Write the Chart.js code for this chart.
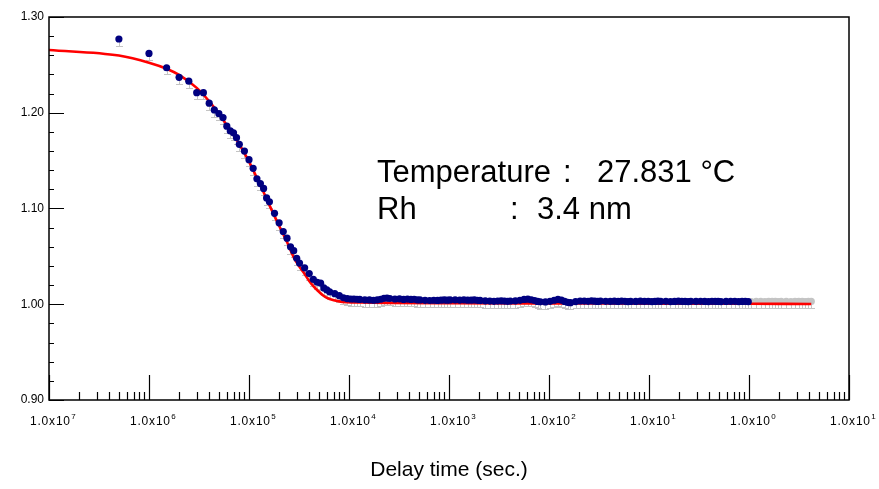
<!DOCTYPE html>
<html>
<head>
<meta charset="utf-8">
<title>DLS correlation</title>
<script src="https://cdn.jsdelivr.net/npm/chart.js@4.4.1/dist/chart.umd.min.js"></script>
<style>
    html, body { margin: 0; padding: 0; background: #ffffff; }
</style>
</head>
<body>
<canvas id="dlsChart" width="879" height="489"></canvas>
<script>
/**
 * DLS 相関関数 + フィット曲線
 * - 遅延時間は µs で持って、描画時に秒へ変換
 */

// 遅延時間 (µs)
const delayTimes = [
    0.5, 1, 1.5, 2, 2.5, 3, 3.5, 4, 4.5, 5, 5.5, 6, 6.5, 7, 7.5, 8,
    9, 10, 11, 12, 13, 14, 15, 16,
    18, 20, 22, 24, 26, 28, 30, 32,
    36, 40, 44, 48, 52, 56, 60, 64,
    72, 80, 88, 96, 104, 112, 120, 128,
    144, 160, 176, 192, 208, 224, 240, 256,
    288, 320, 352, 384, 416, 448, 480, 512,
    576, 640, 704, 768, 832, 896, 960, 1024,
    1152, 1280, 1408, 1536, 1664, 1792, 1920, 2048,
    2304, 2560, 2816, 3072, 3328, 3584, 3840, 4096,
    4608, 5120, 5632, 6144, 6656, 7168, 7680, 8192,
    9216, 10240, 11264, 12288, 13312, 14336, 15360, 16384,
    18432, 20480, 22528, 24576, 26624, 28672, 30720, 32768,
    36864, 40960, 45056, 49152, 53248, 57344, 61440, 65536,
    73728, 81920, 90112, 98304, 106496, 114688, 122880, 131072,
    147456, 163840, 180224, 196608, 212992, 229376, 245760, 262144,
    294912, 327680, 360448, 393216, 425984, 458752, 491520, 524288,
    589824, 655360, 720896, 786432, 851968, 917504, 983040, 1048576,
    1179648, 1310720, 1441792, 1572864, 1703936, 1835008, 1966080, 2097152,
    2359296, 2621440, 2883584, 3145728, 3407872, 3670016, 3932160, 4194304
];

// 測定値 g2
const g2Values = [
    1.277, 1.262, 1.247, 1.237, 1.233, 1.221, 1.221, 1.210, 1.203, 1.199, 1.195, 1.186, 1.181, 1.179, 1.174, 1.167,
    1.160, 1.151, 1.142, 1.131, 1.126, 1.121, 1.111, 1.107,
    1.095, 1.085, 1.076, 1.069, 1.060, 1.056, 1.048, 1.043,
    1.038, 1.032, 1.026, 1.023, 1.022, 1.017, 1.015, 1.013,
    1.011, 1.009, 1.0068, 1.0058, 1.0055, 1.0055, 1.0052, 1.0050,
    1.0046, 1.0045, 1.0042, 1.0046, 1.0052, 1.0062, 1.0065, 1.0060,
    1.0055, 1.0056, 1.0050, 1.0054, 1.0050, 1.0052, 1.0046, 1.0045,
    1.0041, 1.0039, 1.0042, 1.0040, 1.0044, 1.0045, 1.0043, 1.0045,
    1.0046, 1.0044, 1.0046, 1.0043, 1.0044, 1.0045, 1.0041, 1.0040,
    1.0036, 1.0033, 1.0031, 1.0033, 1.0036, 1.0033, 1.0031, 1.0034,
    1.0036, 1.0041, 1.0050, 1.0053, 1.0047, 1.0039, 1.0030, 1.0025,
    1.0024, 1.0031, 1.0042, 1.0050, 1.0044, 1.0030, 1.0019, 1.0016,
    1.0028, 1.0034, 1.0033, 1.0031, 1.0035, 1.0032, 1.0030, 1.0033,
    1.0031, 1.0029, 1.0032, 1.0030, 1.0033, 1.0031, 1.0028, 1.0030,
    1.0030, 1.0032, 1.0029, 1.0031, 1.0028, 1.0030, 1.0032, 1.0029,
    1.0031, 1.0028, 1.0030, 1.0032, 1.0029, 1.0030, 1.0028, 1.0031,
    1.0029, 1.0031, 1.0030, 1.0028, 1.0031, 1.0029, 1.0030, 1.0028,
    1.0030, 1.0029, 1.0031, 1.0028, 1.0030, 1.0029, 1.0027, 1.0028,
    1.0029, 1.0030, 1.0028, 1.0031, 1.0029, 1.0030, 1.0028, 1.0029,
    1.0030, 1.0028, 1.0031, 1.0029, 1.0030, 1.0028, 1.0030, 1.0029
];

// フィット曲線 (µs / g2)
const fitTimes = [
    0.1, 0.5, 1, 1.5, 2, 3, 4, 5, 6, 7, 8, 10, 12, 14, 16, 20, 24, 28, 32,
    36, 40, 44, 48, 56, 64, 80, 96, 128, 256, 1024, 10000, 100000, 1000000, 4194304
];
const fitValues = [
    1.2655, 1.2597, 1.2523, 1.2460, 1.2395, 1.2260, 1.2120, 1.1990, 1.1870, 1.1770, 1.1670,
    1.1490, 1.1320, 1.1170, 1.1035, 1.0820, 1.0650, 1.0490, 1.0390,
    1.0316, 1.0243, 1.0190, 1.0149, 1.0086, 1.0055, 1.0030, 1.0022, 1.0018, 1.0014,
    1.0011, 1.0009, 1.0007, 1.0005, 1.0003
];

// フィット範囲の上限 (µs) - これより後は灰色
const fitRangeEnd = 1000000;

// 誤差 (下側のみ)
const errLow = 0.007;

// 軸ラベル
const xTickPowers = [-7, -6, -5, -4, -3, -2, -1, 0, 1];
const xTickExpText = ['7', '6', '5', '4', '3', '2', '1', '0', '1'];
const yTickValues = [0.90, 1.00, 1.10, 1.20, 1.30];

const FONT = '"Liberation Sans", Arial, Helvetica, sans-serif';


// 測定点を秒単位の {x, y} に
function buildPoints(inRange) {

    const points = [];

    delayTimes.forEach(function(t, i) {
        if ((t <= fitRangeEnd) === inRange) {
            points.push({ x: t * 1e-6, y: g2Values[i] });
        }
    });

    return points;
}


function buildFitLine() {

    return fitTimes.map(function(t, i) {
        return { x: t * 1e-6, y: fitValues[i] };
    });
}


// 誤差棒・枠・目盛・文字
const dlsDecorPlugin = {
    id: 'dlsDecor',

    beforeDatasetsDraw: function(chart) {

        const ctx = chart.ctx;
        const xs = chart.scales.x;
        const ys = chart.scales.y;

        ctx.save();
        ctx.strokeStyle = '#c4c4c4';
        ctx.lineWidth = 1;

        delayTimes.forEach(function(t, i) {
            const px = Math.round(xs.getPixelForValue(t * 1e-6)) + 0.5;
            const py = ys.getPixelForValue(g2Values[i]);
            const pe = Math.round(ys.getPixelForValue(g2Values[i] - errLow)) + 0.5;

            ctx.beginPath();
            ctx.moveTo(px, py);
            ctx.lineTo(px, pe);
            ctx.moveTo(px - 3.5, pe);
            ctx.lineTo(px + 3.5, pe);
            ctx.stroke();
        });

        ctx.restore();
    },

    afterDraw: function(chart) {

        const ctx = chart.ctx;
        const area = chart.chartArea;
        const xs = chart.scales.x;
        const ys = chart.scales.y;

        ctx.save();

        // 枠
        ctx.strokeStyle = '#000000';
        ctx.lineWidth = 1.5;
        ctx.strokeRect(area.left, area.top, area.right - area.left, area.bottom - area.top);

        // x 目盛 (10 進 + 2..9)
        ctx.lineWidth = 1.2;
        ctx.beginPath();
        xTickPowers.forEach(function(p) {
            const px = Math.round(xs.getPixelForValue(Math.pow(10, p))) + 0.5;
            ctx.moveTo(px, area.bottom);
            ctx.lineTo(px, area.bottom - 25);

            if (p < 1) {
                for (let m = 2; m <= 9; m++) {
                    const mx = Math.round(xs.getPixelForValue(m * Math.pow(10, p))) + 0.5;
                    ctx.moveTo(mx, area.bottom);
                    ctx.lineTo(mx, area.bottom - 8);
                }
            }
        });
        ctx.stroke();

        // y 目盛 (0.1 / 0.02)
        ctx.beginPath();
        for (let k = 0; k <= 20; k++) {
            const v = 0.9 + k * 0.02;
            const py = Math.round(ys.getPixelForValue(v)) + 0.5;
            ctx.moveTo(area.left, py);
            ctx.lineTo(area.left + (k % 5 === 0 ? 15 : 5), py);
        }
        ctx.stroke();

        // x 目盛ラベル 1.0x10^n
        ctx.fillStyle = '#000000';
        ctx.textBaseline = 'alphabetic';
        ctx.textAlign = 'left';
        xTickPowers.forEach(function(p, i) {
            const px = xs.getPixelForValue(Math.pow(10, p));
            const base = '1.0x10';

            ctx.font = '12px ' + FONT;
            ctx.letterSpacing = '0.8px';
            const w = ctx.measureText(base).width;
            const x0 = px - 19;
            ctx.fillText(base, x0, 425);

            ctx.letterSpacing = '0px';
            ctx.font = '8px ' + FONT;
            ctx.fillText(xTickExpText[i], x0 + w + 0.5, 419);
        });

        // 注記
        ctx.font = '31px ' + FONT;
        ctx.fillText('Temperature', 377, 182);
        ctx.fillText(':', 563, 182);
        ctx.fillText('27.831 \u00B0C', 597, 182);
        ctx.fillText('Rh', 377, 219);
        ctx.fillText(':', 510, 219);
        ctx.fillText('3.4 nm', 537, 219);

        ctx.restore();
    }
};


function initDlsChart() {

    const ctx = document.getElementById('dlsChart');

    if (!ctx) {
        return;
    }

    new Chart(ctx.getContext('2d'), {
        type: 'scatter',
        data: {
            datasets: [
                {
                    label: 'g2 (fit range)',
                    data: buildPoints(true),
                    backgroundColor: '#000080',
                    borderColor: '#000080',
                    pointRadius: 3.6,
                    pointBorderWidth: 0,
                    order: 0
                },
                {
                    label: 'fit',
                    data: buildFitLine(),
                    showLine: true,
                    borderColor: '#ff0000',
                    borderWidth: 2.6,
                    pointRadius: 0,
                    cubicInterpolationMode: 'monotone',
                    order: 1
                },
                {
                    label: 'g2 (excluded)',
                    data: buildPoints(false),
                    backgroundColor: '#c4c4c4',
                    borderColor: '#c4c4c4',
                    pointRadius: 3.6,
                    pointBorderWidth: 0,
                    order: 2
                }
            ]
        },
        options: {
            responsive: false,
            devicePixelRatio: 1,
            animation: false,
            layout: {
                padding: { top: 17, right: 30, left: 0, bottom: 0 }
            },
            plugins: {
                legend: { display: false },
                tooltip: { enabled: false }
            },
            scales: {
                x: {
                    type: 'logarithmic',
                    min: 1e-7,
                    max: 1e1,
                    grid: { display: false, drawTicks: false },
                    border: { display: false },
                    ticks: { display: false },
                    title: {
                        display: true,
                        text: 'Delay time (sec.)',
                        color: '#000000',
                        font: { family: FONT, size: 21 },
                        padding: { top: 4, bottom: 6 }
                    },
                    afterFit: function(scale) {
                        scale.height = 89;
                    }
                },
                y: {
                    min: 0.9,
                    max: 1.3,
                    grid: { display: false, drawTicks: false },
                    border: { display: false },
                    afterBuildTicks: function(scale) {
                        scale.ticks = yTickValues.map(function(v) {
                            return { value: v };
                        });
                    },
                    ticks: {
                        color: '#000000',
                        padding: 5,
                        font: { family: FONT, size: 12 },
                        callback: function(v) {
                            return Number(v).toFixed(2);
                        }
                    },
                    afterFit: function(scale) {
                        scale.width = 49;
                    }
                }
            }
        },
        plugins: [dlsDecorPlugin]
    });
}


initDlsChart();
</script>
</body>
</html>
